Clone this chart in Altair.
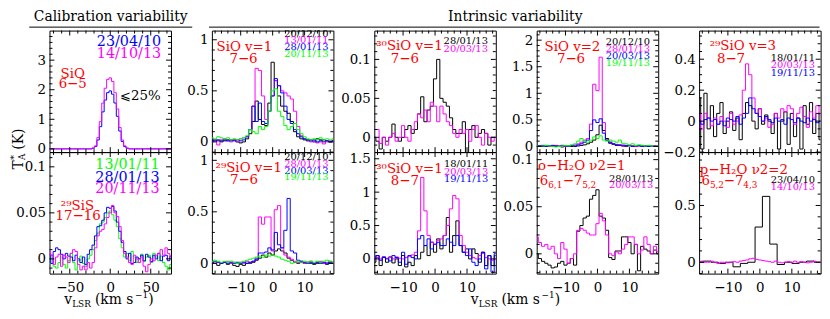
import json
import altair as alt
import pandas as pd
import numpy as np

FONT = "DejaVu Serif"
W, H = 123, 123
RED = "#ff0000"
COL = {"k": "#000000", "m": "#ff00ff", "b": "#0000ff", "g": "#00ff00"}

# ---------------- velocity channels ----------------
V_CAL = list(range(-75, 76, 3))      # calibration panels (km/s)
V_INT = list(range(-19, 20))         # intrinsic panels (km/s)
V_PH2O_K = [-21.05, -18.75, -16.45, -14.15, -11.85, -9.55, -7.25, -4.95, -2.65,
            -0.35, 1.95, 4.25, 6.55, 8.85, 11.15, 13.45, 15.75, 18.05, 20.35]

# ---------------- SiO 6-5 (calibration) ----------------
A_blue = [0, 0, 0, 0, 0, 0, 0, 0, 0, 0,
          0, 0, 0, 0, 0, 0, 0, 0, 0.02, 0.08,
          0.3, 0.75, 1.25, 1.65, 1.9, 1.96, 1.85, 1.55, 1.1, 0.6,
          0.25, 0.08, 0.02, 0, 0, 0, 0, 0, 0, 0,
          0, 0, 0, 0, 0, 0, 0, 0, 0, 0,
          0]
A_mag = [0, 0, 0, 0, 0, 0, 0, 0, 0, 0,
         0, 0, 0, 0, 0, 0, 0, 0, 0.03, 0.1,
         0.38, 0.92, 1.55, 2.05, 2.35, 2.4, 2.28, 1.9, 1.35, 0.72,
         0.3, 0.1, 0.03, 0, 0, 0, 0, 0, 0, 0,
         0, 0, 0, 0, 0, 0, 0, 0, 0, 0,
         0]

# ---------------- 29SiS 17-16 (calibration) ----------------
F_green = [-0.005, 0.004, -0.008, -0.01, -0.004, 0.002, -0.006, -0.01, -0.002, 0.006,
           -0.004, -0.012, -0.002, 0.003, -0.005, -0.008, 0.0, 0.004, 0.01, 0.02,
           0.028, 0.038, 0.04, 0.045, 0.05, 0.052, 0.048, 0.042, 0.035, 0.022,
           0.012, 0.002, 0.006, -0.002, 0.008, 0.002, -0.004, 0.0, 0.005, -0.003,
           0.002, 0.004, -0.004, 0.006, 0.002, -0.002, 0.003, -0.004, -0.008, -0.012,
           -0.006]
F_blue = [0.005, -0.005, 0.008, 0.012, 0.01, 0.005, 0.0, 0.006, 0.003, 0.002,
          -0.002, 0.004, 0.0, -0.004, 0.002, -0.006, 0.005, 0.01, 0.015, 0.025,
          0.035, 0.036, 0.042, 0.05, 0.056, 0.055, 0.057, 0.052, 0.04, 0.03,
          0.018, 0.008, 0.0, 0.006, -0.005, -0.004, 0.002, 0.0, 0.004, -0.002,
          0.005, 0.002, -0.003, 0.004, 0.0, 0.006, -0.002, 0.003, 0.004, -0.002,
          0.003]
F_mag = [0.008, 0.004, -0.006, 0.002, 0.005, -0.008, 0.004, 0.002, -0.004, 0.006,
         0.01, 0.008, -0.006, -0.012, -0.008, -0.012, -0.004, -0.01, -0.004, 0.012,
         0.025, 0.03, 0.032, 0.038, 0.045, 0.05, 0.058, 0.05, 0.046, 0.035,
         0.02, 0.006, 0.002, -0.004, -0.006, 0.004, 0.0, -0.004, 0.002, -0.008,
         -0.014, -0.006, 0.0, -0.002, 0.004, 0.006, 0.01, 0.004, 0.012, 0.006,
         0.002]

# ---------------- SiO v=1 7-6 ----------------
B_black = [0.01, 0.02, 0.01, 0.0, 0.01, 0.02, 0.01, 0.02, 0.0, -0.01,
           0.0, 0.03, 0.08, 0.2, 0.4, 0.22, 0.17, 0.16, 0.38, 0.78,
           0.6, 0.45, 0.35, 0.3, 0.28, 0.2, 0.1, 0.05, 0.03, 0.02,
           0.01, 0.02, 0.0, 0.03, 0.02, 0.0, 0.01, 0.0, 0.01]
B_mag = [0.0, 0.02, -0.03, 0.02, 0.03, 0.01, 0.0, 0.02, 0.0, 0.03,
         0.04, 0.05, 0.12, 0.35, 0.72, 0.7, 0.45, 0.22, 0.3, 0.45,
         0.6, 0.55, 0.5, 0.48, 0.45, 0.42, 0.3, 0.15, 0.06, 0.03,
         0.02, 0.0, 0.01, -0.01, 0.0, -0.02, 0.0, 0.01, 0.0]
B_blue = [0.02, 0.01, 0.02, 0.01, 0.02, 0.01, 0.02, 0.01, 0.02, 0.01,
          0.02, 0.05, 0.12, 0.35, 0.2, 0.38, 0.2, 0.18, 0.3, 0.45,
          0.62, 0.55, 0.48, 0.35, 0.22, 0.18, 0.12, 0.08, 0.05, 0.03,
          0.02, 0.01, 0.02, 0.0, 0.01, 0.02, 0.01, 0.0, 0.01]
B_green = [0.04, 0.03, 0.05, 0.04, 0.03, 0.04, 0.02, 0.03, 0.02, 0.03,
           0.04, 0.06, 0.12, 0.1, 0.08, 0.15, 0.12, 0.15, 0.3, 0.5,
           0.52, 0.3, 0.25, 0.16, 0.12, 0.15, 0.18, 0.12, 0.08, 0.05,
           0.03, 0.02, 0.03, 0.02, 0.04, 0.02, 0.03, 0.02, 0.03]

# ---------------- 29SiO v=1 7-6 ----------------
G_black = [0.01, 0.0, -0.02, 0.0, 0.01, -0.01, 0.0, -0.02, -0.03, -0.01,
           -0.02, 0.0, 0.0, 0.01, 0.03, 0.05, 0.08, 0.06, 0.1, 0.08,
           0.12, 0.14, 0.12, 0.1, 0.05, 0.03, 0.01, 0.0, 0.01, 0.0,
           0.01, 0.0, -0.01, 0.0, 0.01, 0.0, -0.01, 0.0, 0.01]
G_mag = [0.01, 0.0, 0.01, 0.0, 0.01, 0.02, 0.0, 0.01, 0.0, 0.01,
         0.0, 0.02, 0.01, 0.02, 0.05, 0.45, 0.38, 0.45, 0.45, 0.12,
         0.52, 0.56, 0.15, 0.08, 0.06, 0.04, 0.02, 0.01, 0.02, 0.0,
         0.01, 0.02, 0.0, 0.01, 0.02, 0.0, 0.01, 0.02, 0.0]
G_blue = [0.0, 0.02, 0.01, 0.0, 0.01, 0.0, 0.01, 0.0, 0.01, 0.0,
          0.01, 0.0, 0.01, 0.02, 0.04, 0.1, 0.1, 0.11, 0.15, 0.13,
          0.3, 0.18, 0.15, 0.32, 0.63, 0.12, 0.1, 0.03, 0.02, 0.01,
          0.0, 0.01, 0.0, 0.01, 0.0, 0.01, 0.0, 0.01, 0.0]
G_green = [0.02, 0.03, 0.02, 0.01, 0.02, 0.01, 0.02, 0.01, 0.0, 0.01,
           0.02, 0.03, 0.04, 0.05, 0.06, 0.07, 0.06, 0.08, 0.07, 0.08,
           0.07, 0.06, 0.04, 0.03, 0.02, 0.0, 0.01, 0.02, 0.01, 0.02,
           0.01, 0.02, 0.01, 0.02, 0.01, 0.02, 0.03, 0.02, 0.01]

# ---------------- 30SiO v=1 7-6 ----------------
C_black = [0.0, -0.005, -0.015, 0.0, -0.005, 0.0, 0.017, 0.0, -0.005, 0.0,
           0.01, 0.015, 0.005, 0.01, 0.03, 0.052, 0.02, 0.035, 0.04, 0.075,
           0.1, 0.05, 0.045, 0.04, 0.025, 0.01, 0.005, 0.005, 0.02, -0.03,
           0.01, 0.015, 0.0, 0.005, 0.01, 0.005, -0.01, 0.0, 0.0]
C_mag = [0.01, 0.01, -0.008, 0.0, -0.01, 0.0, 0.005, -0.005, 0.0, 0.015,
         0.0, -0.005, 0.01, 0.02, 0.03, 0.025, 0.035, 0.02, 0.045, 0.04,
         0.02, 0.04, 0.03, 0.02, 0.015, 0.005, 0.0, 0.01, 0.005, 0.01,
         -0.005, 0.01, 0.015, 0.0, -0.01, 0.005, 0.0, -0.005, 0.0]

# ---------------- 30SiO v=1 8-7 ----------------
H_black = [-0.05, 0.05, -0.1, 0.02, -0.05, 0.03, -0.06, 0.0, -0.1, 0.05,
           -0.12, -0.05, -0.1, 0.05, 0.0, 0.1, 0.2, 0.05, 0.25, 0.1,
           0.3, 0.15, 0.35, 0.62, 0.1, 0.35, 0.57, 0.2, 0.1, 0.15,
           0.0, 0.15, 0.08, -0.05, 0.1, -0.1, 0.05, -0.1, 0.05]
H_mag = [0.0, 0.02, 0.0, 0.03, 0.01, 0.02, 0.0, 0.03, 0.01, 0.0,
         0.02, 0.04, 0.06, 0.1, 0.42, 1.22, 0.72, 0.35, 0.25, 0.22,
         0.28, 0.3, 0.35, 0.5, 0.75, 0.95, 0.9, 0.35, 0.2, 0.1,
         0.05, 0.02, 0.0, 0.05, 0.08, 0.02, 0.0, -0.02, 0.0]
H_blue = [0.0, 0.05, -0.02, 0.03, 0.0, -0.03, 0.05, 0.02, -0.05, 0.1,
          -0.08, 0.05, 0.02, 0.0, 0.3, 0.35, 0.2, 0.3, 0.15, 0.22,
          0.25, 0.2, 0.2, 0.3, 0.25, 0.2, 0.35, 0.2, 0.1, 0.05,
          0.15, -0.05, -0.1, 0.0, 0.1, -0.15, 0.05, -0.2, 0.08]

# ---------------- SiO v=2 7-6 ----------------
D_black = [0.0, 0.01, 0.0, 0.02, 0.01, 0.0, 0.02, 0.0, -0.01, 0.0,
           0.01, 0.0, 0.0, 0.01, 0.02, 0.03, 0.05, 0.08, 0.12, 0.22,
           0.4, 0.3, 0.15, 0.06, 0.04, 0.02, 0.03, 0.01, 0.0, 0.02,
           0.01, 0.0, 0.01, 0.02, 0.0, 0.01, 0.0, 0.01, 0.0]
D_mag = [0.0, 0.01, 0.02, 0.01, 0.0, 0.02, 0.01, 0.0, 0.02, 0.0,
         0.01, 0.02, 0.03, 0.05, 0.08, 0.12, 0.15, 0.42, 1.17, 1.05,
         1.68, 0.45, 0.12, 0.08, 0.05, 0.04, 0.02, 0.03, 0.01, 0.02,
         0.01, 0.0, 0.01, 0.0, 0.01, 0.02, 0.0, 0.01, 0.0]
D_blue = [0.02, 0.01, 0.02, 0.0, 0.01, 0.02, 0.0, 0.01, 0.02, 0.01,
          0.0, 0.02, 0.01, 0.03, 0.05, 0.08, 0.12, 0.3, 0.5, 0.45,
          0.52, 0.25, 0.12, 0.08, 0.05, 0.03, 0.02, 0.01, 0.02, 0.01,
          0.0, 0.01, 0.02, 0.0, 0.01, 0.0, 0.01, 0.0, 0.01]
D_green = [0.01, 0.0, 0.01, 0.02, 0.01, 0.0, -0.01, 0.0, 0.01, 0.02,
           0.01, 0.03, 0.05, 0.1, 0.15, 0.1, 0.08, 0.12, 0.18, 0.15,
           0.2, 0.12, 0.1, 0.12, 0.1, 0.08, 0.12, 0.06, 0.05, 0.03,
           0.05, 0.02, 0.03, 0.02, 0.01, 0.02, 0.01, 0.0, 0.01]

# ---------------- o-H2O v2=1 ----------------
I_black = [0.0, -0.005, -0.008, -0.01, -0.012, -0.015, -0.014, -0.01, -0.008, -0.012,
           -0.01, -0.005, -0.012, 0.024, 0.03, 0.038, 0.04, 0.058, 0.062, 0.068,
           0.04, 0.038, 0.025, -0.004, -0.006, 0.003, 0.003, 0.018, 0.018, 0.012,
           0.0, 0.01, -0.018, 0.008, 0.005, 0.003, 0.0, 0.004, 0.0]
I_mag = [0.018, 0.012, 0.008, 0.01, 0.005, 0.008, 0.0, -0.005, 0.012, 0.005,
         -0.01, -0.005, 0.0, 0.025, 0.027, 0.025, 0.022, 0.02, 0.02, 0.032,
         0.043, 0.035, 0.02, 0.0, -0.002, 0.002, 0.0, 0.005, 0.01, 0.018,
         0.018, 0.01, 0.0, 0.004, 0.018, 0.01, 0.0, 0.008, 0.002]

# ---------------- 29SiO v=3 8-7 ----------------
E_black = [0.15, -0.18, 0.18, -0.05, 0.1, -0.1, 0.05, 0.12, -0.08, 0.0,
           0.06, -0.06, 0.02, -0.12, 0.05, 0.12, 0.1, 0.0, -0.05, 0.08,
           -0.02, 0.04, 0.0, -0.08, 0.05, -0.18, 0.0, 0.06, -0.15, 0.05,
           -0.1, 0.02, -0.18, 0.1, -0.02, 0.12, -0.08, 0.05, -0.12]
E_mag = [0.05, -0.05, 0.05, 0.02, -0.03, 0.02, -0.02, 0.03, 0.0, -0.04,
         0.05, -0.02, 0.0, 0.04, 0.2, 0.37, 0.3, 0.15, 0.05, 0.08,
         0.0, 0.02, -0.04, -0.02, 0.05, 0.02, 0.08, 0.06, 0.1, 0.08,
         -0.02, 0.05, 0.09, 0.03, -0.04, 0.06, 0.02, 0.1, 0.04]
E_blue = [0.0, -0.02, 0.01, 0.02, 0.0, 0.01, -0.02, 0.0, -0.03, 0.02,
          0.01, 0.0, 0.03, -0.02, 0.02, 0.05, 0.15, 0.08, 0.05, 0.03,
          0.0, 0.03, 0.01, -0.01, 0.02, 0.0, 0.01, -0.02, 0.02, 0.01,
          -0.01, 0.02, 0.0, -0.01, 0.02, 0.0, 0.01, -0.01, 0.0]

# ---------------- p-H2O v2=2 ----------------
J_black = [0.0, 0.0, 0.01, 0.0, -0.01, 0.0, -0.04, -0.01, 0.0,
           0.31, 0.58, 0.16, -0.02, 0.0, -0.01, 0.0, 0.01, 0.0, 0.0]
J_mag = [0.0, 0.01, 0.0, 0.0, 0.01, 0.0, -0.01, 0.0, 0.0, -0.005,
         0.0, 0.005, 0.0, 0.01, 0.015, 0.02, 0.03, 0.035, 0.025, 0.02,
         0.015, 0.01, 0.005, 0.0, 0.01, 0.0, -0.005, 0.0, 0.005, 0.0,
         0.01, 0.0, 0.005, 0.0, -0.005, 0.0, 0.01, 0.0, 0.0]

ONE = pd.DataFrame({"k": [0]})


def label_expr(vals, labels):
    expr = "''"
    for v, l in zip(reversed(vals), reversed(labels)):
        expr = f"datum.value == {json.dumps(v)} ? '{l}' : ({expr})"
    return expr


def T(s, x, y, color="#000000", size=10, align="left", angle=None, dx=0, dy=0):
    props = dict(text=s, font=FONT, fontSize=size, color=color, align=align,
                 baseline="alphabetic")
    if angle is not None:
        props["angle"] = angle
    if dx:
        props["dx"] = dx
    if dy:
        props["dy"] = dy
    return alt.Chart(ONE).mark_text(**props).encode(x=alt.value(x), y=alt.value(y))


def hrule(x1, x2, y):
    return alt.Chart(ONE).mark_rule(color="black", strokeWidth=1).encode(
        x=alt.value(x1), x2=alt.value(x2), y=alt.value(y))


def ticks_range(lo, hi, step, exclude):
    out = []
    for v in np.arange(lo, hi + step / 2, step):
        v = float(np.round(v, 4))
        if all(abs(v - e) > 1e-9 for e in exclude):
            out.append(v)
    return out


def panel(series, xdom, xmaj, xlab, xminor, ydom, ymaj, ylab, yminor, show_x, extras):
    xs = alt.Scale(domain=xdom, nice=False, zero=False)
    ys = alt.Scale(domain=ydom, nice=False, zero=False)
    yaxis = alt.Axis(values=ymaj, labelExpr=label_expr(ymaj, ylab), ticks=False,
                     domain=False, grid=False, title=None, labelFont=FONT,
                     labelFontSize=13.5, labelPadding=4, labelOverlap=False,
                     labelFlush=False, labelColor="black")
    xaxis = None
    if show_x:
        xaxis = alt.Axis(values=xmaj, labelExpr=label_expr(xmaj, xlab), ticks=False,
                         domain=False, grid=False, title=None, labelFont=FONT,
                         labelFontSize=13.5, labelPadding=7, labelOverlap=False,
                         labelFlush=False, labelColor="black")
    layers = []
    for key, xv, yv in series:
        df = pd.DataFrame({"v": xv, "T": yv})
        layers.append(
            alt.Chart(df).mark_line(interpolate="step", color=COL[key], strokeWidth=1,
                                    clip=True).encode(
                x=alt.X("v:Q", scale=xs, axis=xaxis),
                y=alt.Y("T:Q", scale=ys, axis=yaxis)))
    for vals, L in ((ymaj, 5), (yminor, 3)):
        d = pd.DataFrame({"T": vals})
        base = alt.Chart(d).mark_rule(color="black", strokeWidth=1)
        layers.append(base.encode(y=alt.Y("T:Q", scale=ys, axis=yaxis),
                                  x=alt.value(0), x2=alt.value(L)))
        layers.append(base.encode(y=alt.Y("T:Q", scale=ys, axis=yaxis),
                                  x=alt.value(W - L), x2=alt.value(W)))
    for vals, L in ((xmaj, 5), (xminor, 3)):
        d = pd.DataFrame({"v": vals})
        base = alt.Chart(d).mark_rule(color="black", strokeWidth=1)
        layers.append(base.encode(x=alt.X("v:Q", scale=xs, axis=xaxis),
                                  y=alt.value(H - L), y2=alt.value(H)))
        layers.append(base.encode(x=alt.X("v:Q", scale=xs, axis=xaxis),
                                  y=alt.value(0), y2=alt.value(L)))
    layers += extras
    return alt.layer(*layers).properties(width=W, height=H)


# axis tick settings
XC_DOM, XC_MAJ, XC_LAB = [-75, 75], [-50, 0, 50], ["−50", "0", "50"]
XC_MIN = ticks_range(-70, 70, 10, XC_MAJ)
XI_DOM, XI_MAJ, XI_LAB = [-19, 19], [-10, 0, 10], ["−10", "0", "10"]
XI_MIN = ticks_range(-18, 18, 2, XI_MAJ)
TITLE_Y, ULINE_Y, XT_Y = -9.5, -3.5, 154


def xtitle(x0, y0):
    return [T("v", x0, y0, size=14),
            T("LSR", x0 + 8, y0 + 3, size=9),
            T("(km s", x0 + 31, y0, size=14),
            T("−1", x0 + 71.5, y0 - 6, size=9),
            T(")", x0 + 85, y0, size=14)]


# ---- panel A: SiO 6-5 ----
pA = panel([("b", V_CAL, A_blue), ("m", V_CAL, A_mag)],
           XC_DOM, XC_MAJ, XC_LAB, XC_MIN,
           [-0.11, 4.0], [0, 1, 2, 3], ["0", "1", "2", "3"],
           ticks_range(0.2, 3.8, 0.2, [0, 1, 2, 3]), False,
           [T("Calibration variability", 62, TITLE_Y, size=14, align="center"),
            hrule(-20.5, 144.5, ULINE_Y),
            T("23/04/10", 113, 16, COL["b"], 14.5, "right"),
            T("14/10/13", 113, 28, COL["m"], 14.5, "right"),
            T("SiO", 23.5, 48, RED, 13.5, "center"),
            T("6−5", 23.5, 58.5, RED, 13.5, "center"),
            T("⩽25%", 71.5, 70, "#000000", 13.5)])

# ---- panel B: SiO v=1 7-6 ----
pB = panel([("k", V_INT, B_black), ("m", V_INT, B_mag), ("b", V_INT, B_blue),
            ("g", V_INT, B_green)],
           XI_DOM, XI_MAJ, XI_LAB, XI_MIN,
           [-0.1, 1.09], [0, 0.5, 1], ["0", "0.5", "1"],
           ticks_range(-0.1, 1.0, 0.1, [0, 0.5, 1]), False,
           [T("SiO v=1", 4.7, 21, RED, 13.5),
            T("7−6", 32, 33, RED, 13.5, "center"),
            T("20/12/10", 118, 6.5, COL["k"], 10, "right"),
            T("13/01/11", 118, 13, COL["m"], 10, "right"),
            T("28/01/13", 118, 19.7, COL["b"], 10, "right"),
            T("20/11/13", 118, 26.3, COL["g"], 10, "right")])

# ---- panel C: 30SiO v=1 7-6 ----
pC = panel([("k", V_INT, C_black), ("m", V_INT, C_mag)],
           XI_DOM, XI_MAJ, XI_LAB, XI_MIN,
           [-0.019, 0.137], [0, 0.05, 0.1], ["0", "0.05", "0.1"],
           ticks_range(-0.01, 0.13, 0.01, [0, 0.05, 0.1]), False,
           [T("Intrinsic variability", 142.7, TITLE_Y, size=14, align="center"),
            hrule(-167.3, 450.7, ULINE_Y),
            T("³⁰SiO v=1", 2, 19.7, RED, 13.5),
            T("7−6", 31, 33, RED, 13.5, "center"),
            T("28/01/13", 115, 13.7, COL["k"], 10, "right"),
            T("20/03/13", 115, 21.3, COL["m"], 10, "right")])

# ---- panel D: SiO v=2 7-6 ----
pD = panel([("k", V_INT, D_black), ("m", V_INT, D_mag), ("b", V_INT, D_blue),
            ("g", V_INT, D_green)],
           XI_DOM, XI_MAJ, XI_LAB, XI_MIN,
           [-0.106, 2.18], [0, 0.5, 1, 1.5, 2], ["0", "0.5", "1", "1.5", "2"],
           ticks_range(0.1, 2.1, 0.1, [0, 0.5, 1, 1.5, 2]), False,
           [T("SiO v=2", 8, 20.3, RED, 13.5),
            T("7−6", 34.7, 33, RED, 13.5, "center"),
            T("20/12/10", 114.7, 14.7, COL["k"], 10, "right"),
            T("28/01/13", 114.7, 21.3, COL["m"], 10, "right"),
            T("20/03/13", 114.7, 29, COL["b"], 10, "right"),
            T("19/11/13", 114.7, 36.3, COL["g"], 10, "right")])

# ---- panel E: 29SiO v=3 8-7 ----
pE = panel([("k", V_INT, E_black), ("m", V_INT, E_mag), ("b", V_INT, E_blue)],
           XI_DOM, XI_MAJ, XI_LAB, XI_MIN,
           [-0.2, 0.585], [-0.2, 0, 0.2, 0.4], ["−0.2", "0", "0.2", "0.4"],
           ticks_range(-0.15, 0.55, 0.05, [-0.2, 0, 0.2, 0.4]), False,
           [T("²⁹SiO v=3", 10.7, 19.7, RED, 13.5),
            T("8−7", 32.3, 33, RED, 13.5, "center"),
            T("18/01/11", 117.3, 30.3, COL["k"], 10, "right"),
            T("20/03/13", 117.3, 38, COL["m"], 10, "right"),
            T("19/11/13", 117.3, 45.7, COL["b"], 10, "right")])

# ---- panel F: 29SiS 17-16 ----
pF = panel([("g", V_CAL, F_green), ("b", V_CAL, F_blue), ("m", V_CAL, F_mag)],
           XC_DOM, XC_MAJ, XC_LAB, XC_MIN,
           [-0.016, 0.116], [0, 0.05, 0.1], ["0", "0.05", "0.1"],
           ticks_range(-0.01, 0.11, 0.01, [0, 0.05, 0.1]), True,
           [T("13/01/11", 111.5, 16.7, COL["g"], 14.5, "right"),
            T("28/01/13", 111.5, 30, COL["b"], 14.5, "right"),
            T("20/11/13", 111.5, 41.7, COL["m"], 14.5, "right"),
            T("²⁹SiS", 11.5, 58.3, RED, 13.5),
            T("17−16", 29, 68.3, RED, 13.5, "center"),
            T("T", -27.3, 17.5, size=14, angle=270),
            T("A", -27.3, 17.5, size=9, angle=270, dx=9.5, dy=3),
            T("*", -27.3, 17.5, size=10, angle=270, dx=9.5, dy=-6),
            T("(K)", -27.3, 17.5, size=14, angle=270, dx=20)]
           + xtitle(15, XT_Y))

# ---- panel G: 29SiO v=1 7-6 ----
pG = panel([("k", V_INT, G_black), ("m", V_INT, G_mag), ("b", V_INT, G_blue),
            ("g", V_INT, G_green)],
           XI_DOM, XI_MAJ, XI_LAB, XI_MIN,
           [-0.1, 1.08], [0, 0.5, 1], ["0", "0.5", "1"],
           ticks_range(-0.1, 1.0, 0.1, [0, 0.5, 1]), True,
           [T("²⁹SiO v=1", 3.7, 20, RED, 13.5),
            T("7−6", 32.5, 32.7, RED, 13.5, "center"),
            T("20/12/10", 118, 8.3, COL["k"], 10, "right"),
            T("28/01/13", 118, 15, COL["m"], 10, "right"),
            T("20/03/13", 118, 21.7, COL["b"], 10, "right"),
            T("19/11/13", 118, 28.3, COL["g"], 10, "right")])

# ---- panel H: 30SiO v=1 8-7 ----
pH = panel([("k", V_INT, H_black), ("m", V_INT, H_mag), ("b", V_INT, H_blue)],
           XI_DOM, XI_MAJ, XI_LAB, XI_MIN,
           [-0.22, 1.6], [0, 0.5, 1, 1.5], ["0", "0.5", "1", "1.5"],
           ticks_range(-0.2, 1.5, 0.1, [0, 0.5, 1, 1.5]), True,
           [T("³⁰SiO v=1", 2, 21, RED, 13.5),
            T("8−7", 31, 33.3, RED, 13.5, "center"),
            T("18/01/11", 115.3, 15, COL["k"], 10, "right"),
            T("20/03/13", 115.3, 22.7, COL["m"], 10, "right"),
            T("19/11/13", 115.3, 30, COL["b"], 10, "right")]
           + xtitle(97.7, XT_Y))

# ---- panel I: o-H2O v2=1 ----
pI = panel([("k", V_INT, I_black), ("m", V_INT, I_mag)],
           XI_DOM, XI_MAJ, XI_LAB, XI_MIN,
           [-0.021, 0.108], [0, 0.05, 0.1], ["0", "0.05", "0.1"],
           ticks_range(-0.02, 0.1, 0.01, [0, 0.05, 0.1]), True,
           [T("o−H₂O ν2=1", 1.3, 18.3, RED, 13.5),
            T("6", 3, 33.3, RED, 13.5),
            T("6,1", 11.6, 36.3, RED, 9),
            T("−7", 26.3, 33.3, RED, 13.5),
            T("5,2", 46, 36.3, RED, 9),
            T("28/01/13", 118, 30, COL["k"], 10, "right"),
            T("20/03/13", 118, 36.7, COL["m"], 10, "right")])

# ---- panel J: p-H2O v2=2 ----
pJ = panel([("k", V_PH2O_K, J_black), ("m", V_INT, J_mag)],
           XI_DOM, XI_MAJ, XI_LAB, XI_MIN,
           [-0.1, 0.97], [0, 0.5], ["0", "0.5"],
           ticks_range(-0.1, 0.9, 0.1, [0, 0.5]), True,
           [T("p−H₂O ν2=2", 0.7, 21.7, RED, 13.5),
            T("6", 2.3, 33.3, RED, 13.5),
            T("5,2", 10.9, 36.3, RED, 9),
            T("−7", 25, 33.3, RED, 13.5),
            T("4,3", 44.7, 36.3, RED, 9),
            T("23/04/10", 117.3, 31.7, COL["k"], 10, "right"),
            T("14/10/13", 117.3, 38.3, COL["m"], 10, "right")])

chart = alt.concat(pA, pB, pC, pD, pE, pF, pG, pH, pI, pJ,
                   columns=5, spacing={"row": 0, "column": 41.4},
                   bounds="flush").properties(
    padding={"left": 0, "top": 0, "right": 0, "bottom": 0},
    background="white",
).configure_view(stroke="black", strokeWidth=1)

chart.save("out.html", embed_options={"renderer": "svg", "actions": False})
